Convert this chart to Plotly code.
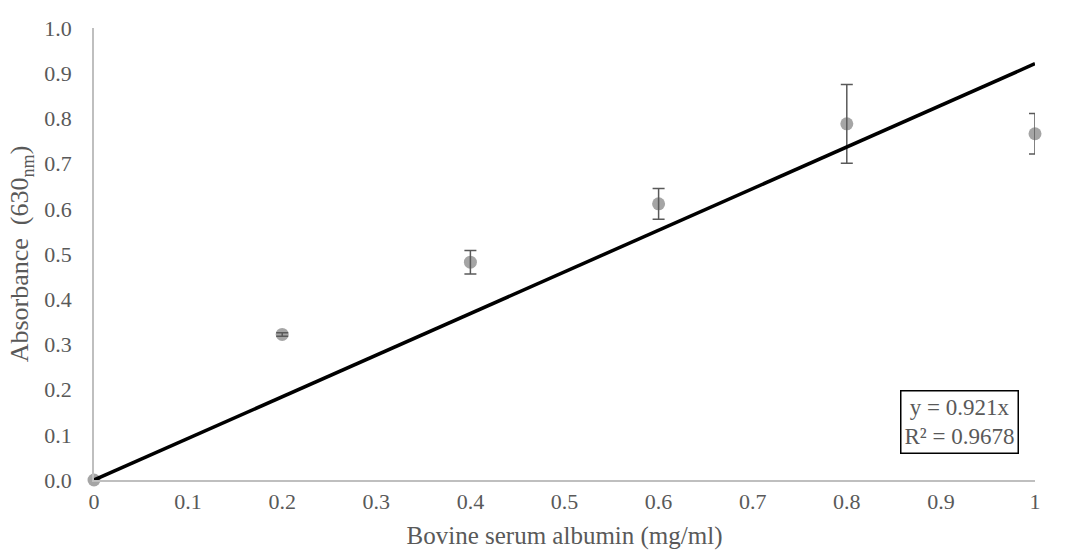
import plotly.graph_objects as go

conc = [0, 0.2, 0.4, 0.6, 0.8, 1.0]
absorb = [0.0, 0.322, 0.482, 0.611, 0.788, 0.766]
err = [0.0, 0.004, 0.026, 0.034, 0.087, 0.045]
slope = 0.921
r2 = 0.9678
xticks = [0, 0.1, 0.2, 0.3, 0.4, 0.5, 0.6, 0.7, 0.8, 0.9, 1.0]
xticklabels = ["0", "0.1", "0.2", "0.3", "0.4", "0.5", "0.6", "0.7", "0.8", "0.9", "1"]

fit_x = [0, 1.0]
fit_y = [slope * v for v in fit_x]

fig = go.Figure()
fig.add_trace(go.Scatter(
    x=conc, y=absorb, mode="markers",
    marker=dict(color="#a5a5a5", size=13),
    cliponaxis=False, showlegend=False))
fig.add_trace(go.Scatter(
    x=conc, y=absorb, mode="markers",
    marker=dict(color="rgba(0,0,0,0)", size=1),
    error_y=dict(type="data", array=err, visible=True, color="#595959", thickness=1.5, width=6),
    cliponaxis=False, showlegend=False, hoverinfo="skip"))
fig.add_trace(go.Scatter(
    x=fit_x, y=fit_y, mode="lines",
    line=dict(color="black", width=3.5),
    cliponaxis=False, showlegend=False))

font_family = "Liberation Serif"
fig.update_layout(
    width=1070, height=556,
    margin=dict(l=94, r=35, t=28, b=76),
    plot_bgcolor="white", paper_bgcolor="white",
    font=dict(family=font_family, color="#595959", size=22),
    xaxis=dict(range=[0, 1], tickvals=xticks, ticktext=xticklabels,
               showgrid=False, zeroline=False, showline=True, linecolor="#bfbfbf", linewidth=1.5,
               ticks="", ticklabelstandoff=1,
               tickfont=dict(family=font_family, size=22, color="#595959"),
               title=dict(text="Bovine serum albumin (mg/ml)", font=dict(family=font_family, size=25, color="#595959"), standoff=13)),
    yaxis=dict(range=[0, 1], dtick=0.1, tickformat=".1f",
               showgrid=False, zeroline=False, showline=True, linecolor="#bfbfbf", linewidth=1.5,
               ticks="", ticklabelstandoff=16,
               tickfont=dict(family=font_family, size=22, color="#595959"),
               title=dict(text="Absorbance  (630<sub>nm</sub>)", font=dict(family=font_family, size=26, color="#595959"), standoff=8)),
    annotations=[dict(
        x=0.92, y=0.128, xref="x", yref="y",
        text=f"y = {slope}x<br>R² = {r2}", showarrow=False,
        font=dict(family=font_family, size=23, color="#595959"),
        bordercolor="black", borderwidth=1.5, borderpad=3, bgcolor="white", align="center")],
)

fig.write_html("out.html")
